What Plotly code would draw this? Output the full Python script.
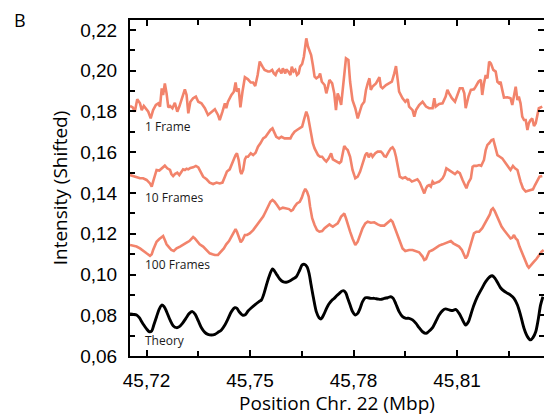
import plotly.graph_objects as go

# ---- data (position in Mbp, shifted intensity) ----
frame1_x = [45.7152, 45.7160, 45.7166, 45.7173, 45.7181, 45.7186, 45.7192, 45.7198, 45.7205, 45.7212,
            45.7219, 45.7227, 45.7234, 45.7239, 45.7244, 45.7248, 45.7253, 45.7258, 45.7263, 45.7268,
            45.7275, 45.7282, 45.7289, 45.7295, 45.7304, 45.7311, 45.7316, 45.7321, 45.7327, 45.7335,
            45.7343, 45.7350, 45.7359, 45.7369, 45.7378, 45.7388, 45.7398, 45.7407, 45.7412, 45.7420,
            45.7427, 45.7431, 45.7436, 45.7446, 45.7453, 45.7458, 45.7462, 45.7467, 45.7472, 45.7478,
            45.7485, 45.7494, 45.7502, 45.7509, 45.7515, 45.7522, 45.7528, 45.7536, 45.7542, 45.7552,
            45.7557, 45.7564, 45.7569, 45.7574, 45.7578, 45.7584, 45.7591, 45.7595, 45.7602, 45.7605,
            45.7611, 45.7617, 45.7621, 45.7626, 45.7631, 45.7636, 45.7641, 45.7645, 45.7651, 45.7656,
            45.7663, 45.7668, 45.7672, 45.7677, 45.7682, 45.7687, 45.7692, 45.7699, 45.7703, 45.7708,
            45.7716, 45.7721, 45.7726, 45.7730, 45.7738, 45.7744, 45.7749, 45.7754, 45.7759, 45.7764,
            45.7769, 45.7773, 45.7778, 45.7785, 45.7790, 45.7797, 45.7805, 45.7812, 45.7819, 45.7824,
            45.7831, 45.7836, 45.7841, 45.7846, 45.7850, 45.7855, 45.7865, 45.7875, 45.7879, 45.7884,
            45.7894, 45.7904, 45.7911, 45.7918, 45.7923, 45.7928, 45.7932, 45.7942, 45.7950, 45.7957,
            45.7961, 45.7971, 45.7976, 45.7981, 45.7990, 45.8000, 45.8010, 45.8019, 45.8029, 45.8034,
            45.8038, 45.8048, 45.8058, 45.8067, 45.8072, 45.8077, 45.8085, 45.8094, 45.8101, 45.8108,
            45.8116, 45.8121, 45.8125, 45.8133, 45.8140, 45.8149, 45.8154, 45.8162, 45.8169, 45.8173,
            45.8178, 45.8183, 45.8188, 45.8193, 45.8198, 45.8205, 45.8212, 45.8217, 45.8222, 45.8226,
            45.8231, 45.8236, 45.8246, 45.8255, 45.8260, 45.8265, 45.8270, 45.8275, 45.8279, 45.8284,
            45.8289, 45.8294, 45.8299, 45.8304, 45.8308, 45.8313, 45.8318, 45.8323, 45.8328, 45.8332,
            45.8337, 45.8347]
frame1_y = [0.1827, 0.1820, 0.1799, 0.1860, 0.1840, 0.1807, 0.1827, 0.1811, 0.1799, 0.1766,
            0.1807, 0.1832, 0.1840, 0.1824, 0.1914, 0.1881, 0.1938, 0.1889, 0.1820, 0.1827,
            0.1816, 0.1843, 0.1799, 0.1824, 0.1876, 0.1909, 0.1881, 0.1791, 0.1848, 0.1865,
            0.1873, 0.1848, 0.1840, 0.1816, 0.1783, 0.1799, 0.1811, 0.1783, 0.1758, 0.1799,
            0.1840, 0.1816, 0.1848, 0.1881, 0.1897, 0.1942, 0.1897, 0.1914, 0.1820, 0.1897,
            0.1968, 0.1958, 0.1942, 0.1942, 0.1925, 0.1979, 0.2045, 0.2020, 0.2004, 0.1996,
            0.1996, 0.2004, 0.1987, 0.1979, 0.1996, 0.2007, 0.1987, 0.2012, 0.1987, 0.2007,
            0.1996, 0.1979, 0.2020, 0.1996, 0.2004, 0.1979, 0.1987, 0.2020, 0.2033, 0.2069,
            0.2159, 0.2118, 0.2102, 0.2077, 0.2028, 0.1971, 0.1963, 0.1971, 0.1987, 0.1946,
            0.1930, 0.1889, 0.1922, 0.1955, 0.1938, 0.1889, 0.1807, 0.1889, 0.1865, 0.1832,
            0.1914, 0.1971, 0.2061, 0.2053, 0.1946, 0.1856, 0.1816, 0.1766, 0.1807, 0.1832,
            0.1848, 0.1906, 0.1938, 0.1963, 0.1906, 0.1922, 0.1938, 0.1968, 0.1922, 0.1914,
            0.1930, 0.1938, 0.1946, 0.1987, 0.2023, 0.1955, 0.1897, 0.1865, 0.1848, 0.1860,
            0.1824, 0.1807, 0.1775, 0.1807, 0.1832, 0.1848, 0.1824, 0.1816, 0.1816, 0.1865,
            0.1824, 0.1837, 0.1840, 0.1873, 0.1906, 0.1889, 0.1865, 0.1848, 0.1881, 0.1914,
            0.1914, 0.1889, 0.1816, 0.1873, 0.1906, 0.1909, 0.1922, 0.1946, 0.1955, 0.1881,
            0.1938, 0.1979, 0.1963, 0.2045, 0.2036, 0.2004, 0.1996, 0.1946, 0.1938, 0.1946,
            0.1906, 0.1868, 0.1870, 0.1865, 0.1832, 0.1889, 0.1922, 0.1856, 0.1873, 0.1840,
            0.1775, 0.1758, 0.1758, 0.1709, 0.1742, 0.1758, 0.1766, 0.1729, 0.1742, 0.1775,
            0.1816, 0.1824]

frame10_x = [45.7152, 45.7160, 45.7171, 45.7181, 45.7190, 45.7200, 45.7210, 45.7215, 45.7219, 45.7224,
             45.7229, 45.7237, 45.7244, 45.7248, 45.7253, 45.7260, 45.7268, 45.7272, 45.7277, 45.7282,
             45.7289, 45.7295, 45.7301, 45.7306, 45.7311, 45.7316, 45.7321, 45.7327, 45.7335, 45.7343,
             45.7350, 45.7356, 45.7364, 45.7374, 45.7383, 45.7393, 45.7403, 45.7412, 45.7420, 45.7427,
             45.7433, 45.7441, 45.7451, 45.7458, 45.7462, 45.7467, 45.7472, 45.7475, 45.7480, 45.7485,
             45.7489, 45.7494, 45.7502, 45.7509, 45.7516, 45.7523, 45.7530, 45.7538, 45.7545, 45.7552,
             45.7559, 45.7565, 45.7569, 45.7576, 45.7584, 45.7591, 45.7600, 45.7610, 45.7617, 45.7622,
             45.7629, 45.7636, 45.7644, 45.7651, 45.7656, 45.7663, 45.7668, 45.7672, 45.7677, 45.7682,
             45.7687, 45.7692, 45.7697, 45.7703, 45.7709, 45.7716, 45.7721, 45.7728, 45.7735, 45.7740,
             45.7749, 45.7759, 45.7764, 45.7769, 45.7773, 45.7778, 45.7783, 45.7790, 45.7797, 45.7805,
             45.7812, 45.7819, 45.7826, 45.7834, 45.7839, 45.7844, 45.7850, 45.7855, 45.7863, 45.7870,
             45.7879, 45.7884, 45.7889, 45.7894, 45.7902, 45.7908, 45.7913, 45.7918, 45.7923, 45.7928,
             45.7934, 45.7942, 45.7950, 45.7957, 45.7961, 45.7969, 45.7979, 45.7985, 45.7992, 45.8000,
             45.8005, 45.8010, 45.8014, 45.8019, 45.8024, 45.8029, 45.8034, 45.8040, 45.8048, 45.8058,
             45.8063, 45.8069, 45.8077, 45.8082, 45.8089, 45.8094, 45.8101, 45.8108, 45.8116, 45.8122,
             45.8127, 45.8133, 45.8140, 45.8145, 45.8149, 45.8156, 45.8164, 45.8170, 45.8173, 45.8178,
             45.8183, 45.8188, 45.8193, 45.8200, 45.8205, 45.8210, 45.8217, 45.8224, 45.8231, 45.8241,
             45.8251, 45.8255, 45.8262, 45.8268, 45.8275, 45.8279, 45.8284, 45.8291, 45.8299, 45.8306,
             45.8313, 45.8320, 45.8326, 45.8332, 45.8339, 45.8347]
frame10_y = [0.1488, 0.1483, 0.1480, 0.1472, 0.1472, 0.1464, 0.1447, 0.1431, 0.1456, 0.1480,
             0.1513, 0.1510, 0.1521, 0.1529, 0.1534, 0.1521, 0.1513, 0.1493, 0.1483, 0.1493,
             0.1500, 0.1488, 0.1505, 0.1516, 0.1513, 0.1519, 0.1516, 0.1523, 0.1526, 0.1533,
             0.1526, 0.1505, 0.1480, 0.1467, 0.1451, 0.1444, 0.1451, 0.1447, 0.1451, 0.1480,
             0.1505, 0.1516, 0.1562, 0.1586, 0.1595, 0.1562, 0.1505, 0.1493, 0.1513, 0.1565,
             0.1578, 0.1578, 0.1595, 0.1586, 0.1598, 0.1627, 0.1644, 0.1668, 0.1676, 0.1693,
             0.1709, 0.1717, 0.1701, 0.1676, 0.1668, 0.1676, 0.1668, 0.1668, 0.1668, 0.1685,
             0.1701, 0.1709, 0.1717, 0.1726, 0.1758, 0.1799, 0.1775, 0.1734, 0.1685, 0.1644,
             0.1619, 0.1603, 0.1586, 0.1578, 0.1578, 0.1562, 0.1554, 0.1570, 0.1595, 0.1565,
             0.1554, 0.1546, 0.1554, 0.1603, 0.1631, 0.1619, 0.1611, 0.1578, 0.1513, 0.1472,
             0.1480, 0.1505, 0.1546, 0.1586, 0.1598, 0.1575, 0.1595, 0.1578, 0.1595, 0.1603,
             0.1603, 0.1595, 0.1581, 0.1578, 0.1603, 0.1619, 0.1624, 0.1611, 0.1578, 0.1529,
             0.1480, 0.1472, 0.1477, 0.1467, 0.1468, 0.1456, 0.1464, 0.1467, 0.1451, 0.1423,
             0.1398, 0.1423, 0.1434, 0.1439, 0.1431, 0.1456, 0.1447, 0.1451, 0.1456, 0.1472,
             0.1488, 0.1521, 0.1513, 0.1505, 0.1500, 0.1493, 0.1505, 0.1497, 0.1464, 0.1439,
             0.1423, 0.1451, 0.1472, 0.1529, 0.1533, 0.1533, 0.1537, 0.1533, 0.1546, 0.1562,
             0.1611, 0.1636, 0.1644, 0.1660, 0.1663, 0.1631, 0.1586, 0.1578, 0.1570, 0.1546,
             0.1521, 0.1513, 0.1533, 0.1521, 0.1513, 0.1480, 0.1456, 0.1423, 0.1407, 0.1411,
             0.1415, 0.1418, 0.1439, 0.1456, 0.1480, 0.1483]

frame100_x = [45.7152, 45.7162, 45.7171, 45.7181, 45.7190, 45.7200, 45.7210, 45.7215, 45.7219, 45.7224,
              45.7229, 45.7237, 45.7244, 45.7248, 45.7253, 45.7258, 45.7266, 45.7272, 45.7279, 45.7287,
              45.7297, 45.7306, 45.7316, 45.7324, 45.7330, 45.7335, 45.7340, 45.7347, 45.7354, 45.7364,
              45.7374, 45.7383, 45.7391, 45.7398, 45.7407, 45.7417, 45.7424, 45.7431, 45.7439, 45.7446,
              45.7454, 45.7458, 45.7462, 45.7467, 45.7473, 45.7478, 45.7485, 45.7491, 45.7499, 45.7509,
              45.7518, 45.7528, 45.7538, 45.7545, 45.7552, 45.7559, 45.7565, 45.7571, 45.7578, 45.7586,
              45.7595, 45.7605, 45.7613, 45.7619, 45.7624, 45.7629, 45.7636, 45.7644, 45.7650, 45.7655,
              45.7660, 45.7665, 45.7670, 45.7674, 45.7680, 45.7687, 45.7694, 45.7701, 45.7709, 45.7716,
              45.7723, 45.7730, 45.7735, 45.7740, 45.7747, 45.7754, 45.7759, 45.7764, 45.7769, 45.7773,
              45.7778, 45.7783, 45.7790, 45.7797, 45.7805, 45.7812, 45.7819, 45.7826, 45.7834, 45.7841,
              45.7850, 45.7860, 45.7870, 45.7879, 45.7889, 45.7896, 45.7904, 45.7908, 45.7913, 45.7918,
              45.7923, 45.7932, 45.7942, 45.7950, 45.7961, 45.7971, 45.7981, 45.7990, 45.8000, 45.8005,
              45.8010, 45.8014, 45.8019, 45.8029, 45.8038, 45.8048, 45.8058, 45.8067, 45.8075, 45.8082,
              45.8089, 45.8096, 45.8106, 45.8114, 45.8120, 45.8125, 45.8130, 45.8135, 45.8143, 45.8149,
              45.8156, 45.8164, 45.8173, 45.8181, 45.8188, 45.8195, 45.8199, 45.8204, 45.8209, 45.8215,
              45.8222, 45.8229, 45.8236, 45.8243, 45.8251, 45.8255, 45.8260, 45.8265, 45.8270, 45.8275,
              45.8281, 45.8289, 45.8297, 45.8304, 45.8308, 45.8316, 45.8323, 45.8330, 45.8337, 45.8345,
              45.8351]
frame100_y = [0.1145, 0.1142, 0.1137, 0.1128, 0.1115, 0.1104, 0.1092, 0.1099, 0.1120, 0.1145,
              0.1161, 0.1174, 0.1186, 0.1189, 0.1169, 0.1148, 0.1132, 0.1120, 0.1115, 0.1128,
              0.1137, 0.1148, 0.1156, 0.1164, 0.1174, 0.1184, 0.1177, 0.1164, 0.1148, 0.1137,
              0.1120, 0.1104, 0.1099, 0.1096, 0.1096, 0.1112, 0.1128, 0.1148, 0.1164, 0.1186,
              0.1210, 0.1223, 0.1210, 0.1181, 0.1158, 0.1169, 0.1194, 0.1194, 0.1202, 0.1218,
              0.1240, 0.1263, 0.1284, 0.1308, 0.1333, 0.1357, 0.1366, 0.1357, 0.1341, 0.1321,
              0.1328, 0.1325, 0.1321, 0.1312, 0.1317, 0.1333, 0.1349, 0.1357, 0.1377, 0.1403,
              0.1420, 0.1407, 0.1382, 0.1333, 0.1276, 0.1243, 0.1218, 0.1210, 0.1213, 0.1227,
              0.1235, 0.1246, 0.1240, 0.1235, 0.1243, 0.1251, 0.1267, 0.1284, 0.1292, 0.1300,
              0.1276, 0.1243, 0.1210, 0.1177, 0.1145, 0.1161, 0.1194, 0.1227, 0.1251, 0.1259,
              0.1254, 0.1256, 0.1246, 0.1240, 0.1240, 0.1251, 0.1263, 0.1267, 0.1259, 0.1235,
              0.1210, 0.1169, 0.1128, 0.1115, 0.1120, 0.1120, 0.1115, 0.1109, 0.1088, 0.1071,
              0.1076, 0.1096, 0.1112, 0.1120, 0.1132, 0.1142, 0.1148, 0.1153, 0.1161, 0.1164,
              0.1153, 0.1145, 0.1137, 0.1120, 0.1096, 0.1079, 0.1092, 0.1120, 0.1169, 0.1202,
              0.1210, 0.1210, 0.1227, 0.1251, 0.1276, 0.1295, 0.1317, 0.1325, 0.1312, 0.1289,
              0.1259, 0.1235, 0.1218, 0.1202, 0.1186, 0.1177, 0.1181, 0.1194, 0.1177, 0.1169,
              0.1137, 0.1104, 0.1063, 0.1043, 0.1034, 0.1047, 0.1063, 0.1076, 0.1096, 0.1112,
              0.1120]

theory_x = [45.7152, 45.7162, 45.7171, 45.7179, 45.7186, 45.7192, 45.7200, 45.7208, 45.7215, 45.7221,
            45.7229, 45.7237, 45.7244, 45.7251, 45.7258, 45.7268, 45.7277, 45.7287, 45.7295, 45.7304,
            45.7314, 45.7324, 45.7333, 45.7341, 45.7350, 45.7359, 45.7369, 45.7378, 45.7388, 45.7398,
            45.7407, 45.7417, 45.7427, 45.7436, 45.7446, 45.7456, 45.7462, 45.7468, 45.7478, 45.7487,
            45.7494, 45.7504, 45.7513, 45.7526, 45.7533, 45.7539, 45.7547, 45.7555, 45.7565, 45.7571,
            45.7578, 45.7586, 45.7595, 45.7605, 45.7615, 45.7624, 45.7634, 45.7644, 45.7651, 45.7658,
            45.7665, 45.7671, 45.7677, 45.7684, 45.7692, 45.7700, 45.7706, 45.7713, 45.7721, 45.7728,
            45.7738, 45.7744, 45.7751, 45.7759, 45.7767, 45.7773, 45.7778, 45.7783, 45.7790, 45.7797,
            45.7805, 45.7812, 45.7819, 45.7826, 45.7834, 45.7841, 45.7850, 45.7860, 45.7870, 45.7879,
            45.7889, 45.7899, 45.7908, 45.7915, 45.7923, 45.7932, 45.7942, 45.7952, 45.7961, 45.7971,
            45.7981, 45.7990, 45.8000, 45.8010, 45.8017, 45.8029, 45.8038, 45.8048, 45.8058, 45.8067,
            45.8077, 45.8087, 45.8096, 45.8106, 45.8116, 45.8125, 45.8133, 45.8140, 45.8149, 45.8159,
            45.8172, 45.8183, 45.8195, 45.8202, 45.8210, 45.8217, 45.8226, 45.8236, 45.8246, 45.8255,
            45.8265, 45.8275, 45.8284, 45.8294, 45.8304, 45.8313, 45.8320, 45.8328, 45.8335, 45.8342,
            45.8349]
theory_y = [0.0806, 0.0804, 0.0801, 0.0788, 0.0768, 0.0752, 0.0733, 0.0719, 0.0723, 0.0752,
            0.0793, 0.0831, 0.0850, 0.0842, 0.0818, 0.0777, 0.0749, 0.0739, 0.0744, 0.0760,
            0.0785, 0.0809, 0.0818, 0.0804, 0.0772, 0.0739, 0.0716, 0.0706, 0.0703, 0.0706,
            0.0716, 0.0728, 0.0752, 0.0782, 0.0818, 0.0837, 0.0834, 0.0818, 0.0801, 0.0804,
            0.0821, 0.0837, 0.0850, 0.0867, 0.0875, 0.0899, 0.0945, 0.0989, 0.1027, 0.1017,
            0.0998, 0.0978, 0.0965, 0.0962, 0.0968, 0.0978, 0.0989, 0.1022, 0.1047, 0.1050,
            0.1038, 0.1006, 0.0948, 0.0883, 0.0818, 0.0788, 0.0782, 0.0801, 0.0831, 0.0854,
            0.0875, 0.0883, 0.0896, 0.0908, 0.0919, 0.0919, 0.0908, 0.0883, 0.0850, 0.0818,
            0.0801, 0.0809, 0.0834, 0.0867, 0.0886, 0.0886, 0.0883, 0.0883, 0.0880, 0.0878,
            0.0883, 0.0886, 0.0891, 0.0883, 0.0854, 0.0818, 0.0793, 0.0785, 0.0785, 0.0777,
            0.0760, 0.0739, 0.0719, 0.0711, 0.0719, 0.0739, 0.0768, 0.0801, 0.0823, 0.0831,
            0.0826, 0.0823, 0.0829, 0.0809, 0.0777, 0.0752, 0.0768, 0.0804, 0.0850, 0.0891,
            0.0932, 0.0965, 0.0989, 0.0994, 0.0981, 0.0962, 0.0935, 0.0919, 0.0908, 0.0899,
            0.0883, 0.0850, 0.0801, 0.0736, 0.0695, 0.0679, 0.0690, 0.0719, 0.0777, 0.0850,
            0.0891]

series_labels = ["1 Frame", "10 Frames", "100 Frames", "Theory"]
label_y = [0.1724, 0.1380, 0.1049, 0.0674]
label_x = 45.7190

x_ticks = [45.72, 45.75, 45.78, 45.81]
x_minor = [45.735, 45.765, 45.795, 45.825]
y_ticks = [0.06, 0.08, 0.10, 0.12, 0.14, 0.16, 0.18, 0.20, 0.22]
x_range = [45.7152, 45.8352]
y_range = [0.06, 0.2249]

SALMON = "#F2836B"
TICK_FONT = dict(family="Liberation Sans, Arial, sans-serif", size=19, color="black")
TEXT_FONT = "Open Sans, sans-serif"

fig = go.Figure()
for xs, ys in [(frame1_x, frame1_y), (frame10_x, frame10_y), (frame100_x, frame100_y)]:
    fig.add_trace(go.Scatter(x=xs, y=ys, mode="lines",
                             line=dict(color=SALMON, width=2.6), showlegend=False,
                             hoverinfo="skip"))
fig.add_trace(go.Scatter(x=theory_x, y=theory_y, mode="lines",
                         line=dict(color="black", width=2.9, shape="spline", smoothing=0.8),
                         showlegend=False, hoverinfo="skip"))
# carrier trace for the right-hand tick axis
fig.add_trace(go.Scatter(x=[], y=[], yaxis="y2", showlegend=False, hoverinfo="skip"))

for text, yy in zip(series_labels, label_y):
    fig.add_annotation(x=label_x, y=yy, xref="x", yref="y", text=text, showarrow=False,
                       xanchor="left", yanchor="middle",
                       font=dict(family=TEXT_FONT, size=12, color="#1a1a1a"))

# panel letter
fig.add_annotation(x=-0.285, y=1.0, xref="paper", yref="paper", text="B", showarrow=False,
                   xanchor="left", yanchor="middle",
                   font=dict(family=TEXT_FONT, size=18, color="black"))

fig.update_layout(
    width=544, height=416,
    margin=dict(l=130, r=0, t=20, b=60),
    paper_bgcolor="white", plot_bgcolor="white",
    separators=", ",
    xaxis=dict(
        range=x_range, tickmode="array", tickvals=x_ticks, tickformat=".2f",
        ticks="inside", ticklen=6, tickwidth=1.6, tickcolor="black",
        showline=True, linewidth=2, linecolor="black", mirror="ticks",
        showgrid=False, zeroline=False, tickfont=TICK_FONT,
        ticklabelstandoff=6,
        minor=dict(ticks="inside", ticklen=5, tickwidth=1.6, tickcolor="black",
                   tickvals=x_minor, showgrid=False),
        title=dict(text="Position Chr. 22 (Mbp)", standoff=8,
                   font=dict(family=TEXT_FONT, size=19, color="black")),
    ),
    yaxis=dict(
        range=y_range, tickmode="array", tickvals=y_ticks, tickformat=".2f",
        ticks="inside", ticklen=6, tickwidth=1.6, tickcolor="black",
        showline=True, linewidth=2, linecolor="black", mirror=False,
        showgrid=False, zeroline=False, tickfont=TICK_FONT,
        ticklabelstandoff=7,
        minor=dict(ticks="inside", ticklen=5, tickwidth=1.6, tickcolor="black",
                   dtick=0.01, tick0=0.06, showgrid=False),
        title=dict(text="Intensity (Shifted)", standoff=8,
                   font=dict(family=TEXT_FONT, size=19, color="black")),
    ),
    yaxis2=dict(
        range=y_range, overlaying="y", side="right", tickmode="array", tickvals=y_ticks,
        ticks="inside", ticklen=6, tickwidth=1.6, tickcolor="black",
        showline=False, showgrid=False, zeroline=False, showticklabels=False,
        minor=dict(ticks="inside", ticklen=5, tickwidth=1.6, tickcolor="black",
                   dtick=0.01, tick0=0.06, showgrid=False),
    ),
)

fig.write_html("out.html")
